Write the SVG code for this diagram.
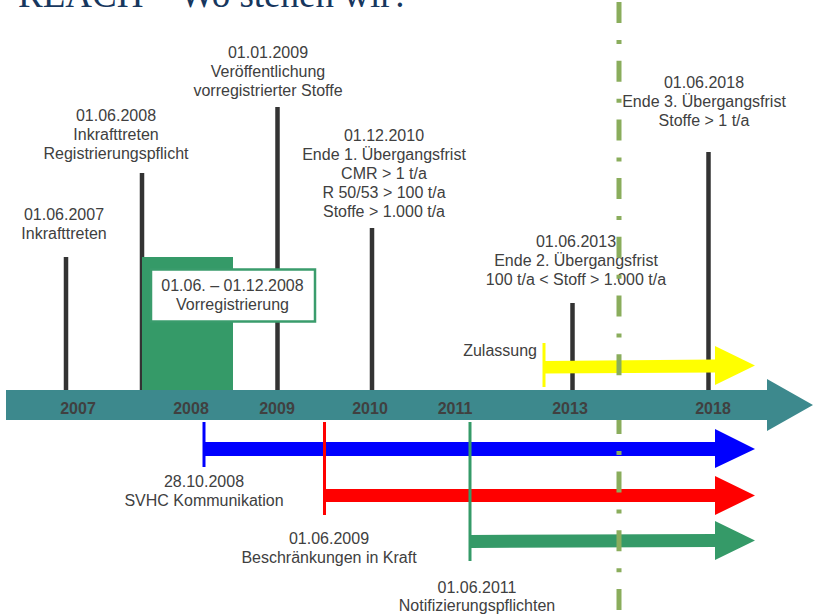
<svg xmlns="http://www.w3.org/2000/svg" width="813" height="615" viewBox="0 0 813 615">
  <style>
    .lbl { font-family: "Liberation Sans", Arial, sans-serif; font-size: 16px; fill: #404040; text-anchor: middle; }
    .yr { font-family: "Liberation Sans", Arial, sans-serif; font-size: 16px; font-weight: bold; fill: #404040; text-anchor: middle; }
    .title { font-family: "Liberation Serif", "Times New Roman", serif; font-size: 37px; fill: #17375E; }
    .pole { stroke: #333333; stroke-width: 4.5; }
    .tick { stroke-width: 3; }
  </style>

  <!-- page heading, partly above the visible area -->
  <text class="title" x="18" y="6.5">REACH – Wo stehen wir?</text>

  <!-- milestone poles standing on the time axis -->
  <g id="poles">
    <line class="pole" x1="66" y1="257" x2="66" y2="390"/>
    <line class="pole" x1="142" y1="173" x2="142" y2="390"/>
    <line class="pole" x1="277.5" y1="107" x2="277.5" y2="390"/>
    <line class="pole" x1="372" y1="228" x2="372" y2="390"/>
    <line class="pole" x1="572.5" y1="303" x2="572.5" y2="390"/>
    <line class="pole" x1="708.5" y1="152" x2="708.5" y2="390"/>
  </g>

  <g id="m2007">
    <text class="lbl" x="64" y="220">01.06.2007</text>
    <text class="lbl" x="64" y="239">Inkrafttreten</text>
  </g>

  <g id="m2008">
    <text class="lbl" x="116" y="121">01.06.2008</text>
    <text class="lbl" x="116" y="140">Inkrafttreten</text>
    <text class="lbl" x="116" y="159">Registrierungspflicht</text>
  </g>

  <g id="m2009">
    <text class="lbl" x="268" y="58">01.01.2009</text>
    <text class="lbl" x="268" y="77">Veröffentlichung</text>
    <text class="lbl" x="268" y="96">vorregistrierter Stoffe</text>
  </g>

  <g id="m2010">
    <text class="lbl" x="384" y="141">01.12.2010</text>
    <text class="lbl" x="384" y="160">Ende 1. Übergangsfrist</text>
    <text class="lbl" x="384" y="179">CMR &gt; 1 t/a</text>
    <text class="lbl" x="384" y="198">R 50/53 &gt; 100 t/a</text>
    <text class="lbl" x="384" y="217">Stoffe &gt; 1.000 t/a</text>
  </g>

  <g id="m2013">
    <text class="lbl" x="576" y="247">01.06.2013</text>
    <text class="lbl" x="576" y="266">Ende 2. Übergangsfrist</text>
    <text class="lbl" x="576" y="285">100 t/a &lt; Stoff &gt; 1.000 t/a</text>
  </g>

  <g id="m2018">
    <text class="lbl" x="704" y="88">01.06.2018</text>
    <text class="lbl" x="704" y="107">Ende 3. Übergangsfrist</text>
    <text class="lbl" x="704" y="126">Stoffe &gt; 1 t/a</text>
  </g>

  <!-- pre-registration period -->
  <g id="vorregistrierung">
    <rect x="142" y="257" width="91" height="133" fill="#359A68"/>
    <rect x="151" y="269.5" width="164" height="52" fill="#FFFFFF" stroke="#3A9C6C" stroke-width="2.5"/>
    <text class="lbl" x="232.5" y="291">01.06. – 01.12.2008</text>
    <text class="lbl" x="232.5" y="310">Vorregistrierung</text>
  </g>

  <!-- ongoing obligations -->
  <g id="zulassung">
    <text class="lbl" x="537" y="356" style="text-anchor:end">Zulassung</text>
    <line class="tick" x1="544" y1="343" x2="544" y2="387" stroke="#FFFF00"/>
    <polygon points="544,361 715,359.5 715,346 755,365.5 715,385 715,372.5 544,373.5" fill="#FFFF00"/>
  </g>

  <g id="svhc">
    <line class="tick" x1="204" y1="422" x2="204" y2="467" stroke="#0000FF"/>
    <polygon points="204,442 715,442 715,429 755,449 715,468 715,456 204,456" fill="#0000FF"/>
    <text class="lbl" x="204" y="487">28.10.2008</text>
    <text class="lbl" x="204" y="506">SVHC Kommunikation</text>
  </g>

  <g id="beschraenkungen">
    <line class="tick" x1="324.5" y1="422" x2="324.5" y2="515" stroke="#FF0000"/>
    <polygon points="324,489 715,489 715,476 755,495.5 715,515 715,502 324,502" fill="#FF0000"/>
    <text class="lbl" x="329" y="544">01.06.2009</text>
    <text class="lbl" x="329" y="563">Beschränkungen in Kraft</text>
  </g>

  <g id="notifizierung">
    <line class="tick" x1="470" y1="422" x2="470" y2="561" stroke="#359A68"/>
    <polygon points="470,535 715,534 715,521 755,540.5 715,560 715,547 470,548" fill="#359A68"/>
    <text class="lbl" x="477" y="593">01.06.2011</text>
    <text class="lbl" x="477" y="611">Notifizierungspflichten</text>
  </g>

  <!-- "today" marker and the time axis -->
  <g id="connectors">
    <line x1="619" y1="2" x2="619" y2="615" stroke="#8AAD5C" stroke-width="5" stroke-dasharray="21 17 4 16.7"/>
    <polygon id="axis" points="6,390 767,390 767,379 813,405 767,431 767,420 6,420" fill="#3D898D"/>
  </g>

  <g id="years">
    <text class="yr" x="78" y="414">2007</text>
    <text class="yr" x="191" y="414">2008</text>
    <text class="yr" x="277" y="414">2009</text>
    <text class="yr" x="370" y="414">2010</text>
    <text class="yr" x="455" y="414">2011</text>
    <text class="yr" x="570" y="414">2013</text>
    <text class="yr" x="713" y="414">2018</text>
  </g>
</svg>
